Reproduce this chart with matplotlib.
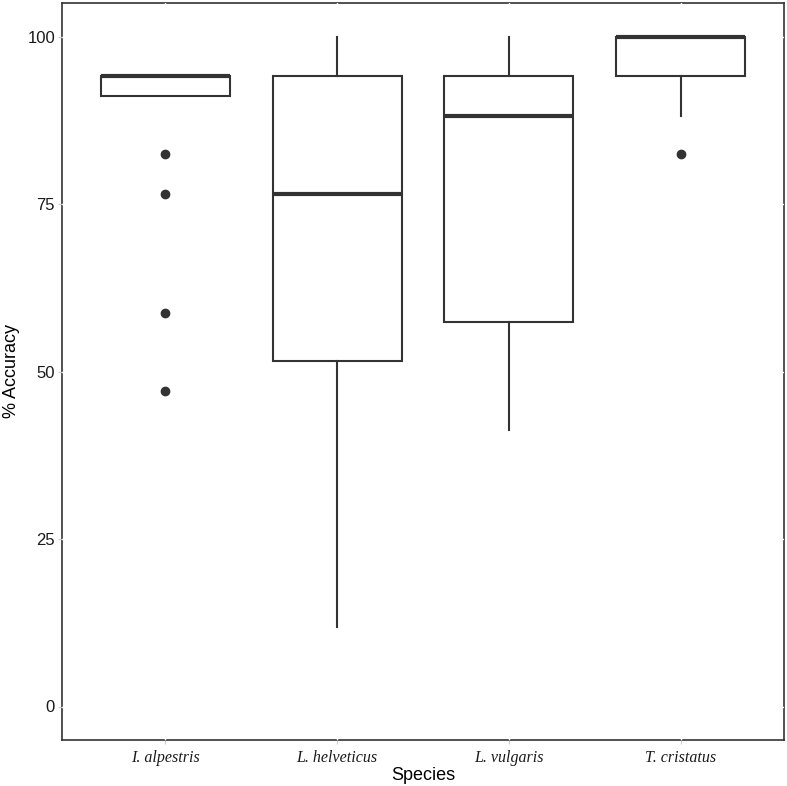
import matplotlib.pyplot as plt

# Species and box statistics (% accuracy)
species = ['I. alpestris', 'L. helveticus', 'L. vulgaris', 'T. cristatus']
whisker_low = [91.1, 11.8, 41.2, 88.2]
q1 = [91.1, 51.5, 57.4, 94.1]
median = [94.1, 76.5, 88.2, 100.0]
q3 = [94.1, 94.1, 94.1, 100.0]
whisker_high = [94.1, 100.0, 100.0, 100.0]
outliers = [[82.4, 76.5, 58.8, 47.1], [], [], [82.4]]

y_ticks = [0, 25, 50, 75, 100]

dark = '#333333'

stats = []
for i, name in enumerate(species):
    stats.append(dict(label=name, whislo=whisker_low[i], q1=q1[i], med=median[i],
                      q3=q3[i], whishi=whisker_high[i], fliers=outliers[i]))

fig = plt.figure(figsize=(7.87, 7.86), dpi=100)
ax = fig.add_axes([62 / 787, 46 / 786, 722 / 787, 737 / 786])

ax.bxp(stats, positions=range(1, 5), widths=0.75, showcaps=False, patch_artist=True,
       boxprops=dict(facecolor='white', edgecolor=dark, linewidth=1.5, zorder=3),
       whiskerprops=dict(color=dark, linewidth=1.5, zorder=3),
       medianprops=dict(color=dark, linewidth=3, solid_capstyle='butt', zorder=4),
       flierprops=dict(marker='o', markerfacecolor=dark, markeredgecolor=dark,
                       markersize=6, zorder=4))

ax.set_xlim(0.4, 4.6)
ax.set_ylim(-5, 105)
ax.set_yticks(y_ticks)
ax.set_yticklabels([str(t) for t in y_ticks], fontsize=12, family='Liberation Sans', color='#1a1a1a')
ax.set_xticks(range(1, 5))
ax.set_xticklabels(species, fontsize=11.5, family='Liberation Serif', style='italic', color='#1a1a1a')

ax.set_xlabel('Species', fontsize=13, family='Liberation Sans', labelpad=1)
ax.set_ylabel('% Accuracy', fontsize=13, family='Liberation Sans', labelpad=5)

for s in ax.spines.values():
    s.set_color(dark)
    s.set_linewidth(1.2)
    s.set_zorder(2.4)

ax.tick_params(axis='y', length=3, width=0.8, color='#cccccc', pad=2)
ax.tick_params(axis='x', length=3, width=0.8, color='#cccccc', pad=4)
ax.set_axisbelow(False)
ax.grid(True, color='white', linewidth=1)

fig.savefig('out.png', dpi=100)
